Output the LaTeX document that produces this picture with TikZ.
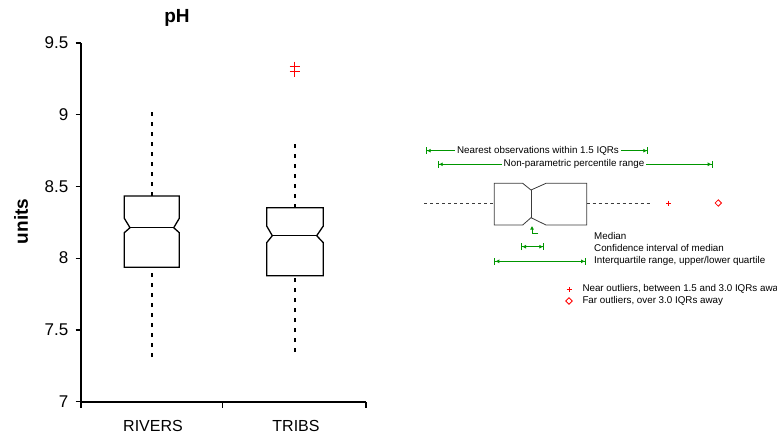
\documentclass[tikz,border=0pt]{standalone}
\usepackage{fontspec}
\setmainfont{Liberation Sans}
\usetikzlibrary{arrows.meta}
\definecolor{lgreen}{RGB}{0,150,0}
\definecolor{lgray}{RGB}{60,60,60}
\begin{document}
\begin{tikzpicture}[x=1pt,y=-1pt,
  axisline/.style={line width=1.2pt,black},
  boxline/.style={line width=1.3pt,black,line join=miter},
  whisk/.style={line width=2pt,black,dash pattern=on 4pt off 6pt},
  ticklab/.style={anchor=east,inner sep=0pt,font=\fontsize{17}{19}\selectfont},
  catlab/.style={inner sep=0pt,font=\fontsize{16}{18}\selectfont},
  outl/.style={red,line width=1.4pt},
  lbox/.style={lgray,line width=0.8pt,line join=miter},
  lwhisk/.style={lgray,line width=0.7pt,dash pattern=on 3pt off 3pt},
  rng/.style={lgreen,line width=1pt,{Bar[width=7pt,line width=1pt]Latex[length=4pt,width=4pt]}-{Latex[length=4pt,width=4pt]Bar[width=7pt,line width=1pt]}},
  ltext/.style={inner sep=0pt,font=\fontsize{9.8}{11}\selectfont},
  lab/.style={ltext,fill=white,inner xsep=2pt,inner ysep=1pt}
  ]
\useasboundingbox (0,0) rectangle (777,437);
% ---------- axes ----------
\coordinate (yb) at (81,402);
\coordinate (yt) at (81,43);
\coordinate (xr) at (366,402);
\draw[axisline] (yt) -- (yb) -- (xr);
\foreach \v/\yy in {9.5/43,9/114.7,8.5/186.4,8/258.1,7.5/329.9,7/401.7}{
  \draw[axisline] (75.5,\yy) -- (81,\yy);
  \node[ticklab] at (68.5,\yy) {\v};
}
\foreach \xx in {81,222.7,366}{
  \draw[axisline] (\xx,402) -- (\xx,407.5);
}
\node[catlab] (rivers) at (153,426) {RIVERS};
\node[catlab] (tribs) at (296,426) {TRIBS};
\node[inner sep=0pt,font=\fontsize{19}{21}\selectfont\bfseries] (title) at (177,18) {pH};
\node[inner sep=0pt,font=\fontsize{19}{21}\selectfont\bfseries,rotate=90] (units) at (21,221.5) {units};
% ---------- RIVERS box ----------
\draw[whisk] (152,112) -- (152,196);
\draw[whisk] (152,357) -- (152,267.3);
\draw[boxline,fill=white] (124.3,196) -- (179.3,196) -- (179.3,218.3) -- (173.7,227.7) -- (179.3,232.7)
  -- (179.3,267.3) -- (124.3,267.3) -- (124.3,232.7) -- (130,227.7) -- (124.3,218.3) -- cycle;
\draw[boxline] (130,227.7) -- (173.7,227.7);
% ---------- TRIBS box ----------
\draw[whisk] (294.5,144) -- (294.5,207.7);
\draw[whisk] (294.5,352) -- (294.5,275.7);
\draw[boxline,fill=white] (266.7,207.7) -- (323.3,207.7) -- (323.3,226) -- (316.7,235.7) -- (323.3,242.7)
  -- (323.3,275.7) -- (266.7,275.7) -- (266.7,242.7) -- (272.3,235.7) -- (266.7,226) -- cycle;
\draw[boxline] (272.3,235.7) -- (316.7,235.7);
% outliers
\foreach \yy in {66.7,71.7}{
  \draw[outl] (289.5,\yy) -- (299.5,\yy);
  \draw[outl] (294.5,\yy-5) -- (294.5,\yy+5);
}
% ---------- legend ----------
\coordinate (na) at (425.7,150.7);
\coordinate (nb) at (648.3,150.7);
\draw[rng] (na) -- (nb);
\node[lab] (nlab) at (538,150.7) {Nearest observations within 1.5 IQRs};
\coordinate (pa) at (437.7,164.3);
\coordinate (pb) at (712.7,164.3);
\draw[rng] (pa) -- (pb);
\node[lab] (plab) at (574,164.3) {Non-parametric percentile range};
% whiskers
\draw[lwhisk] (424,203) -- (494.3,203);
\draw[lwhisk] (586.7,203) -- (651,203);
% box
\draw[lbox,fill=white] (494.3,183.3) -- (522.7,183.3) -- (531,190) -- (546,183.3) -- (586.7,183.3)
  -- (586.7,225) -- (546,225) -- (531,217.7) -- (522.7,225) -- (494.3,225) -- cycle;
\draw[lbox] (531,190) -- (531,217.7);
% outlier markers
\draw[red,line width=0.8pt] (666.2,203) -- (671.2,203) (668.7,200.5) -- (668.7,205.5);
\draw[red,line width=0.8pt] (718.3,199.8) -- (721.5,203) -- (718.3,206.2) -- (715.1,203) -- cycle;
% median pointer
\coordinate (mp) at (538.3,233.3);
\coordinate (mq) at (532,226);
\draw[lgreen,line width=1pt,-{Latex[length=3.5pt,width=4pt]}] (mp) -- (532,233.3) -- (mq);
% CI and IQR
\coordinate (ca) at (521,246.7);
\coordinate (cb) at (544.3,246.7);
\draw[rng] (ca) -- (cb);
\coordinate (ia) at (494.3,261.3);
\coordinate (ib) at (586,261.3);
\draw[rng] (ia) -- (ib);
\node[ltext,anchor=west] (tmed) at (594,235.7) {Median};
\node[ltext,anchor=west] (tci) at (594,248.3) {Confidence interval of median};
\node[ltext,anchor=west] (tiqr) at (594,261.3) {Interquartile range, upper/lower quartile};
% outlier legend
\draw[red,line width=0.8pt] (566.5,289.3) -- (571.5,289.3) (569,286.8) -- (569,291.8);
\draw[red,line width=0.8pt] (569,297.8) -- (572.2,301) -- (569,304.2) -- (565.8,301) -- cycle;
\node[ltext,anchor=west] (tnear) at (582.3,289.3) {Near outliers, between 1.5 and 3.0 IQRs away};
\node[ltext,anchor=west] (tfar) at (582.3,301) {Far outliers, over 3.0 IQRs away};
\end{tikzpicture}
\end{document}
